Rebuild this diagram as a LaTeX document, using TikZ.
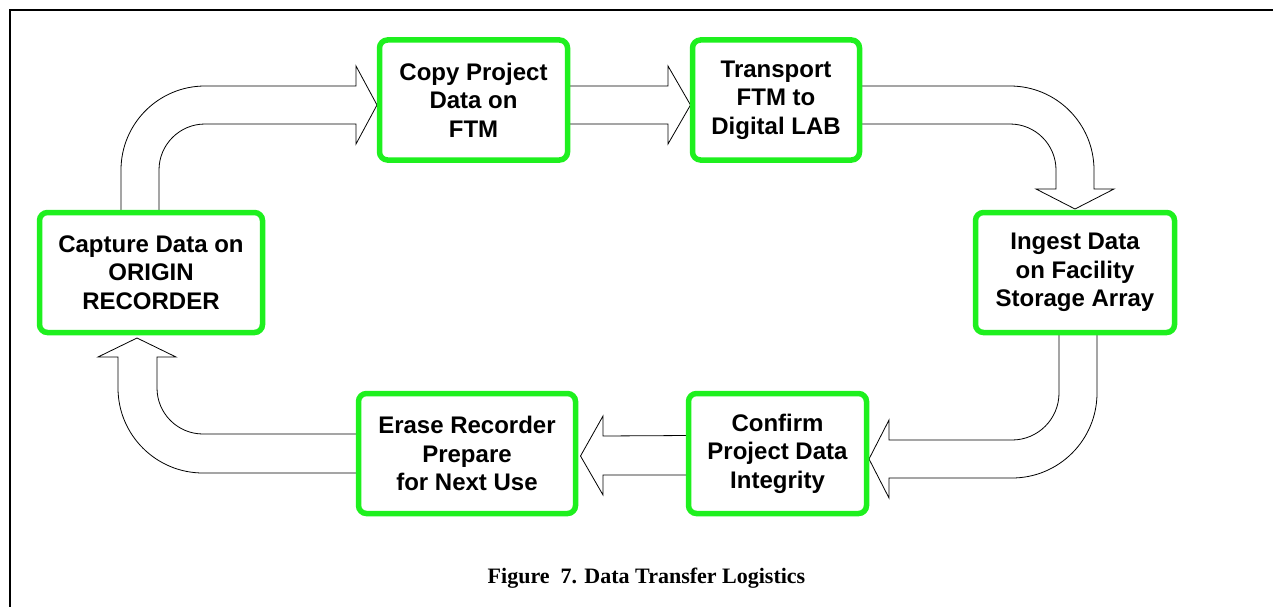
\documentclass[tikz,border=0pt]{standalone}
\usepackage{fontspec}
\setmainfont{Liberation Serif}
\newfontfamily\boxfont{Liberation Sans}
\usetikzlibrary{calc}
\definecolor{stepgreen}{RGB}{30,240,30}
\pgfdeclarelayer{back}
\pgfsetlayers{back,main}
\begin{document}
\begin{tikzpicture}[x=1pt,y=-1pt,
  stepbox/.style={draw=stepgreen, line width=5.5pt, rounded corners=8pt, fill=white,
    align=center, outer sep=0pt, inner sep=0pt,
    font=\boxfont\bfseries\fontsize{24}{28.5}\selectfont},
  blockarrow/.style={draw=black, line width=0.8pt, fill=white},
  frameline/.style={draw=black, line width=2pt}]
\useasboundingbox (0,0) rectangle (1273,607);

% frame
\draw[frameline] (10,607) -- (10,10) -- (1273,10);

% process steps
\node[stepbox, minimum width=223, minimum height=120] (cap)  at (151,272.5) {Capture Data on\\ORIGIN\\RECORDER};
\node[stepbox, minimum width=188, minimum height=120] (copy) at (473.5,100) {Copy Project\\Data on\\FTM};
\node[stepbox, minimum width=167, minimum height=120] (trans) at (776,100) {Transport\\FTM to\\Digital LAB};
\node[stepbox, minimum width=199, minimum height=120] (ingest) at (1075,272.5) {Ingest Data\\on Facility\\Storage Array};
\node[stepbox, minimum width=178, minimum height=120] (confirm) at (777.5,453.5) {Confirm\\Project Data\\Integrity};
\node[stepbox, minimum width=217, minimum height=120] (erase) at (467,453.5) {Erase Recorder\\Prepare\\for Next Use};

% block arrows between the steps
\begin{pgfonlayer}{back}
\draw[blockarrow] ($(cap.north)+(-30,0)$) -- (121,170)
  arc[start angle=180, end angle=270, radius=84] -- (356,86) -- (356,66)
  -- ($(copy.west)+(-2.5,5)$) -- (356,144) -- (356,124) -- (205,124)
  arc[start angle=270, end angle=180, radius=46] -- ($(cap.north)+(8,0)$);

\draw[blockarrow] ($(copy.east)+(0,-14)$) -- (668,86) -- (668,66)
  -- ($(trans.west)+(-2,5)$) -- (668,144) -- (668,124) -- ($(copy.east)+(0,24)$);

\draw[blockarrow] ($(trans.east)+(0,-14)$) -- (1010,86)
  arc[start angle=270, end angle=360, radius=84] -- (1094,189) -- (1114,189)
  -- ($(ingest.north)+(0,-3.5)$) -- (1036,189) -- (1056,189) -- (1056,170)
  arc[start angle=0, end angle=-90, radius=46] -- ($(trans.east)+(0,24)$);

\draw[blockarrow] ($(ingest.south)+(-16,0)$) -- (1059,393)
  arc[start angle=0, end angle=90, radius=47] -- (889,440) -- (889,420)
  -- ($(confirm.east)+(2.5,5.5)$) -- (889,498) -- (889,478) -- (1012,478)
  arc[start angle=90, end angle=0, radius=85] -- ($(ingest.south)+(22,0)$);

\draw[blockarrow] ($(confirm.west)+(0,-18)$) -- (603,436) -- (603,416)
  -- ($(erase.east)+(5,2.5)$) -- (603,495) -- (603,475) -- ($(confirm.west)+(0,21.5)$);

\draw[blockarrow] ($(erase.west)+(0,-19.5)$) -- (203,434)
  arc[start angle=90, end angle=180, radius=46] -- (157,357) -- (176,357)
  -- ($(cap.south)+(-14,5.5)$) -- (98,357) -- (118,357) -- (118,388)
  arc[start angle=180, end angle=90, radius=85] -- ($(erase.west)+(0,19.5)$);
\end{pgfonlayer}

% caption
\node[font=\bfseries\fontsize{22}{25}\selectfont, anchor=base] (caption) at (646.5,583) {Figure\ \ 7. Data Transfer Logistics};
\end{tikzpicture}
\end{document}
